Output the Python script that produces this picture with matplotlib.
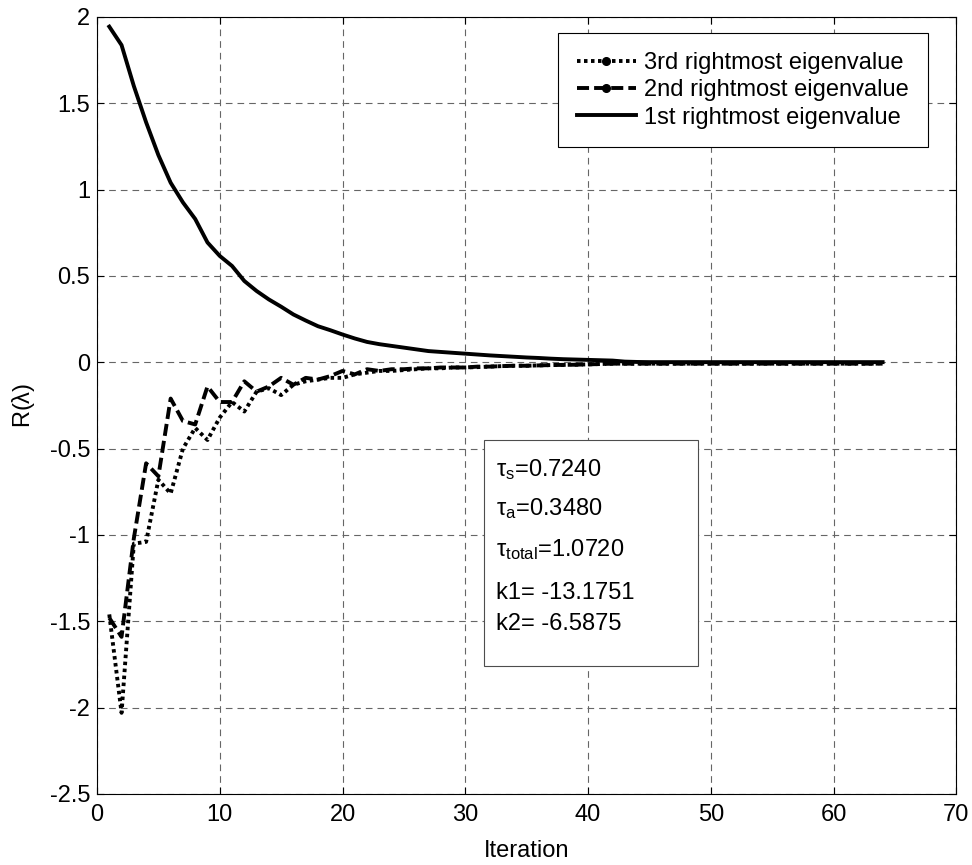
import matplotlib
matplotlib.use('Agg')
import matplotlib.pyplot as plt
from matplotlib.lines import Line2D
from matplotlib.patches import Rectangle

plt.rcParams['font.family'] = ['Liberation Sans', 'DejaVu Sans']
plt.rcParams['axes.unicode_minus'] = False
plt.rcParams['mathtext.fontset'] = 'custom'
plt.rcParams['mathtext.rm'] = 'Liberation Sans'
plt.rcParams['mathtext.it'] = 'Liberation Sans:italic'
plt.rcParams['mathtext.sf'] = 'Liberation Sans'

iteration = list(range(1, 65))

eig1 = [1.944, 1.837, 1.60, 1.39, 1.20, 1.04, 0.926, 0.83, 0.694, 0.616,
        0.558, 0.471, 0.413, 0.364, 0.322, 0.277, 0.242, 0.209, 0.186, 0.161,
        0.138, 0.118, 0.105, 0.095, 0.085, 0.075, 0.065, 0.060, 0.055, 0.050,
        0.045, 0.040, 0.036, 0.032, 0.028, 0.025, 0.021, 0.018, 0.016, 0.014,
        0.012, 0.010, 0.004, 0.002, 0.001, 0.001, 0.001, 0.001, 0.001, 0.001,
        0.001, 0.001, 0.001, 0.001, 0.001, 0.001, 0.001, 0.001, 0.001, 0.001,
        0.001, 0.001, 0.001, 0.001]

eig2 = [-1.48, -1.59, -1.02, -0.585, -0.66, -0.21, -0.34, -0.36, -0.14, -0.23,
        -0.23, -0.11, -0.17, -0.14, -0.09, -0.13, -0.09, -0.10, -0.08, -0.05,
        -0.07, -0.04, -0.05, -0.04, -0.04, -0.035, -0.035, -0.03, -0.03, -0.03,
        -0.025, -0.025, -0.022, -0.02, -0.02, -0.018, -0.016, -0.015, -0.014, -0.012,
        -0.010, -0.008, -0.008, -0.008, -0.008, -0.008, -0.008, -0.008, -0.008, -0.008,
        -0.008, -0.008, -0.008, -0.008, -0.008, -0.008, -0.008, -0.008, -0.008, -0.008,
        -0.008, -0.008, -0.008, -0.008]

eig3 = [-1.46, -2.03, -1.05, -1.04, -0.68, -0.76, -0.50, -0.38, -0.45, -0.32,
        -0.23, -0.285, -0.17, -0.15, -0.19, -0.13, -0.11, -0.10, -0.09, -0.09,
        -0.07, -0.06, -0.05, -0.05, -0.045, -0.04, -0.035, -0.035, -0.03, -0.03,
        -0.028, -0.025, -0.022, -0.02, -0.02, -0.018, -0.016, -0.015, -0.014, -0.012,
        -0.010, -0.008, -0.008, -0.008, -0.008, -0.008, -0.008, -0.008, -0.008, -0.008,
        -0.008, -0.008, -0.008, -0.008, -0.008, -0.008, -0.008, -0.008, -0.008, -0.008,
        -0.008, -0.008, -0.008, -0.008]

labels = ['3rd rightmost eigenvalue', '2nd rightmost eigenvalue', '1st rightmost eigenvalue']
info = [r'$\mathregular{\tau_s}$=0.7240', r'$\mathregular{\tau_a}$=0.3480',
        r'$\mathregular{\tau_{total}}$=1.0720', 'k1= -13.1751', 'k2= -6.5875']

FS = 17
LW = 2.8
dotted = (0, (0.9, 0.9))
dashed = (0, (3.1, 1.3))

fig = plt.figure(figsize=(9.72, 8.65), dpi=100)
ax = fig.add_axes([0.0998, 0.0821, 0.884, 0.8983])

ax.plot(iteration, eig3, color='k', lw=LW, linestyle=dotted)
ax.plot(iteration, eig2, color='k', lw=LW, linestyle=dashed)
ax.plot(iteration, eig1, color='k', lw=LW, linestyle='-')

ax.set_xlim(0, 70)
ax.set_ylim(-2.5, 2)
ax.set_xticks(range(0, 71, 10))
ax.set_yticks([2, 1.5, 1, 0.5, 0, -0.5, -1, -1.5, -2, -2.5])
ax.set_yticklabels(['2', '1.5', '1', '0.5', '0', '-0.5', '-1', '-1.5', '-2', '-2.5'])
ax.tick_params(direction='in', top=True, right=True, labelsize=FS, length=5)
ax.tick_params(axis='x', pad=7)
ax.tick_params(axis='y', pad=5)
ax.grid(True, color='0.4', linestyle=(0, (6, 4.5)), linewidth=0.8)
for s in ax.spines.values():
    s.set_linewidth(0.8)

ax.set_xlabel('Iteration', fontsize=FS, labelpad=10)
ax.set_ylabel(r'R($\mathregular{\lambda}$)', fontsize=FS, labelpad=9)

handles = [
    Line2D([], [], color='k', lw=LW, linestyle=dotted, marker='.', markersize=11),
    Line2D([], [], color='k', lw=LW, linestyle=dashed, marker='.', markersize=11),
    Line2D([], [], color='k', lw=LW, linestyle='-'),
]
leg = ax.legend(handles, labels, loc='upper right', bbox_to_anchor=(0.967, 0.979),
                borderaxespad=0, fontsize=FS, handlelength=2.5, handletextpad=0.35,
                labelspacing=0.22, fancybox=False, framealpha=1, edgecolor='k',
                numpoints=1, borderpad=0.8)
leg.get_frame().set_linewidth(0.8)

ax.add_patch(Rectangle((0.4505, 0.165), 0.2492, 0.291, transform=ax.transAxes,
                       fill=True, facecolor='white', edgecolor='0.3', lw=0.8, zorder=5))
ypos = [0.417, 0.367, 0.315, 0.259, 0.219]
for t, yy in zip(info, ypos):
    ax.text(0.4645, yy, t, transform=ax.transAxes, fontsize=FS, va='center', ha='left', zorder=6)

fig.savefig('out.png', dpi=100)
